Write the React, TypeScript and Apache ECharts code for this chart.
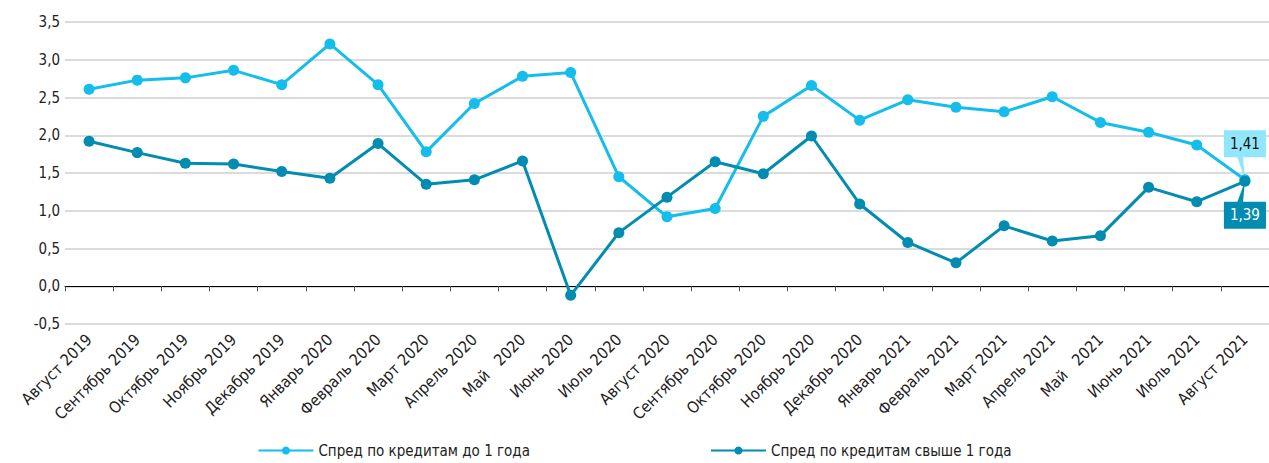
import React, { useEffect, useRef } from "react";
import * as echarts from "echarts";

const categories = [
  "Август 2019", "Сентябрь 2019", "Октябрь 2019", "Ноябрь 2019", "Декабрь 2019",
  "Январь 2020", "Февраль 2020", "Март 2020", "Апрель 2020", "Май   2020",
  "Июнь 2020", "Июль 2020", "Август 2020", "Сентябрь 2020", "Октябрь 2020",
  "Ноябрь 2020", "Декабрь 2020", "Январь 2021", "Февраль 2021", "Март 2021",
  "Апрель 2021", "Май   2021", "Июнь 2021", "Июль 2021", "Август 2021",
];

const shortSpread = [
  2.61, 2.73, 2.76, 2.86, 2.67, 3.21, 2.67, 1.78, 2.42, 2.78,
  2.83, 1.45, 0.92, 1.03, 2.25, 2.66, 2.2, 2.47, 2.37, 2.31,
  2.51, 2.17, 2.04, 1.87, 1.41,
];

const longSpread = [
  1.92, 1.77, 1.63, 1.62, 1.52, 1.43, 1.89, 1.35, 1.41, 1.66,
  -0.12, 0.71, 1.18, 1.65, 1.49, 1.99, 1.09, 0.58, 0.31, 0.8,
  0.6, 0.67, 1.31, 1.12, 1.39,
];

const seriesNames = ["Спред по кредитам до 1 года", "Спред по кредитам свыше 1 года"];

const LIGHT = "#14bdeb";
const DARK = "#028cb1";
const LIGHT_BOX = "#92e6fb";
const FONT = "'Liberation Sans Narrow', 'DejaVu Sans Condensed', Roboto, sans-serif";

const fmt = (v: number) => v.toFixed(2).replace(".", ",");

export default function App() {
  const ref = useRef<HTMLDivElement>(null);
  useEffect(() => {
    if (!ref.current) return;
    const chart = echarts.init(ref.current, undefined, { renderer: "svg" });
    const last = categories.length - 1;
    const mkData = (arr: number[], isLight: boolean) =>
      arr.map((v, i) =>
        i === last
          ? {
              value: v,
              label: {
                show: true,
                formatter: (p: any) => fmt(p.value),
                position: isLight ? "top" : "bottom",
                distance: isLight ? 17 : 15,
                backgroundColor: isLight ? LIGHT_BOX : DARK,
                color: isLight ? "#111" : "#fff",
                padding: [6, 6, 6, 6],
                fontSize: 15,
                fontFamily: FONT,
              },
            }
          : v
      );
    chart.setOption({
      animation: false,
      grid: { left: 65, width: 1208, top: 22, bottom: 139, containLabel: false },
      legend: {
        bottom: 0,
        left: "center",
        itemGap: 180,
        itemWidth: 55,
        itemHeight: 10,
        textStyle: { fontSize: 15, color: "#222", fontFamily: FONT },
        data: seriesNames,
      },
      xAxis: {
        type: "category",
        data: categories,
        boundaryGap: true,
        axisLine: { show: true, onZero: true, lineStyle: { color: "#000", width: 1 } },
        axisTick: { show: true, alignWithLabel: false, length: 5, lineStyle: { color: "#555" } },
        axisLabel: {
          rotate: 45,
          margin: 13,
          interval: 0,
          fontSize: 16,
          color: "#222",
          fontFamily: FONT,
        },
      },
      yAxis: {
        type: "value",
        min: -0.5,
        max: 3.5,
        interval: 0.5,
        axisLine: { show: false },
        axisTick: { show: false },
        axisLabel: {
          fontSize: 15,
          color: "#222",
          margin: 5,
          fontFamily: FONT,
          formatter: (v: number) => v.toFixed(1).replace(".", ","),
        },
        splitLine: { lineStyle: { color: "#cfcfcf", width: 1.5 } },
      },
      series: [
        {
          name: seriesNames[0],
          type: "line",
          data: mkData(shortSpread, true),
          symbol: "circle",
          symbolSize: 11,
          lineStyle: { color: LIGHT, width: 3 },
          itemStyle: { color: LIGHT },
          z: 3,
        },
        {
          name: seriesNames[1],
          type: "line",
          data: mkData(longSpread, false),
          symbol: "circle",
          symbolSize: 11,
          lineStyle: { color: DARK, width: 3 },
          itemStyle: { color: DARK },
          z: 4,
        },
      ],
    });
    // callout pointers computed from the axes
    const pL = chart.convertToPixel({ seriesIndex: 0 }, [last, shortSpread[last]]) as number[];
    const pD = chart.convertToPixel({ seriesIndex: 1 }, [last, longSpread[last]]) as number[];
    if (pL && pD) {
      chart.setOption({
        graphic: [
          {
            type: "polygon",
            z: 1,
            shape: { points: [[pL[0] - 8, pL[1] - 24], [pL[0] - 2, pL[1] - 24], [pL[0], pL[1]]] },
            style: { fill: LIGHT_BOX },
          },
          {
            type: "polygon",
            z: 1,
            shape: { points: [[pD[0] - 8, pD[1] + 22], [pD[0] - 2, pD[1] + 22], [pD[0], pD[1]]] },
            style: { fill: DARK },
          },
        ],
      });
    }
    return () => chart.dispose();
  }, []);
  return (
    <div
      ref={ref}
      style={{ position: "absolute", left: 0, top: 0, width: 1269, height: 463, background: "#fff" }}
    />
  );
}
